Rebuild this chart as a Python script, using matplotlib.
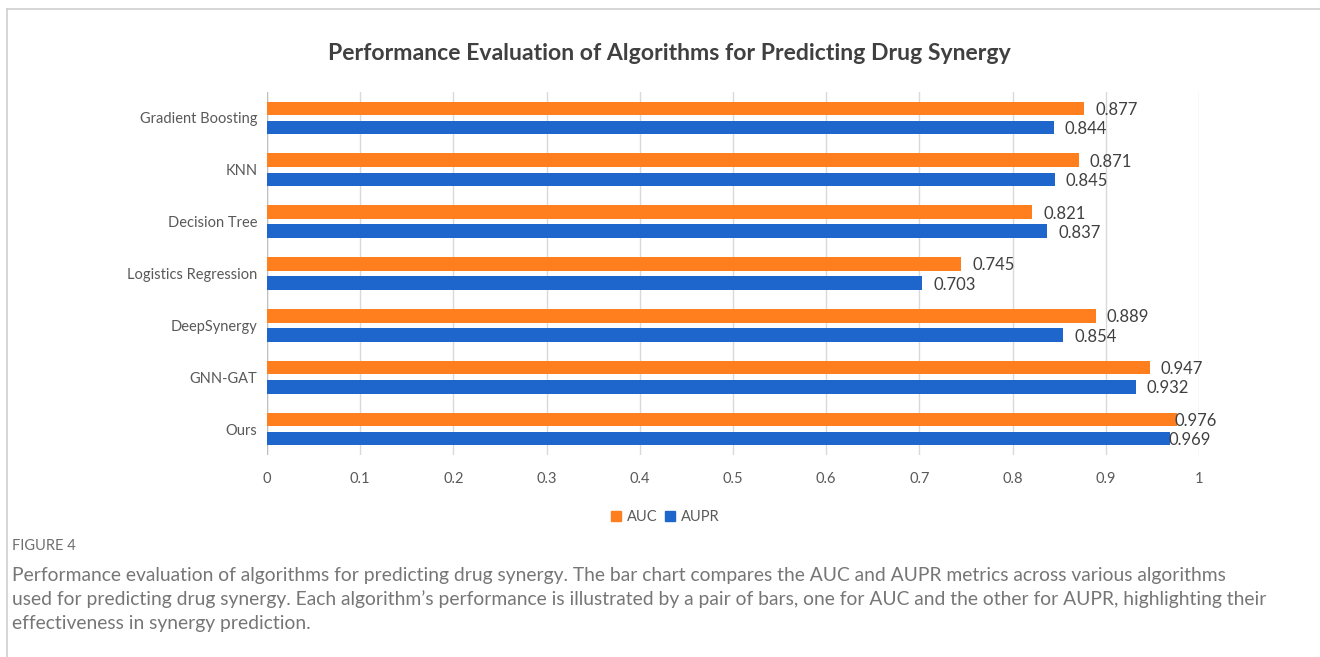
import matplotlib
matplotlib.use("Agg")
import matplotlib.pyplot as plt
from matplotlib.patches import Patch
from matplotlib.lines import Line2D

# Algorithms listed top to bottom
algorithms = ["Gradient Boosting", "KNN", "Decision Tree", "Logistics Regression",
              "DeepSynergy", "GNN-GAT", "Ours"]
auc = [0.877, 0.871, 0.821, 0.745, 0.889, 0.947, 0.976]
aupr = [0.844, 0.845, 0.837, 0.703, 0.854, 0.932, 0.969]
x_ticks = [0, 0.1, 0.2, 0.3, 0.4, 0.5, 0.6, 0.7, 0.8, 0.9, 1]
x_tick_labels = ["0", "0.1", "0.2", "0.3", "0.4", "0.5", "0.6", "0.7", "0.8", "0.9", "1"]

title = "Performance Evaluation of Algorithms for Predicting Drug Synergy"
fig_label = "FIGURE 4"
caption_lines = [
    "Performance evaluation of algorithms for predicting drug synergy. The bar chart compares the AUC and AUPR metrics across various algorithms",
    "used for predicting drug synergy. Each algorithm\u2019s performance is illustrated by a pair of bars, one for AUC and the other for AUPR, highlighting their",
    "effectiveness in synergy prediction.",
]

ORANGE = "#FF7F1F"
BLUE = "#1F66CC"
TEXT = "#404040"
TICK = "#595959"
GRID = "#D9D9D9"

W, H = 1320, 657
fig = plt.figure(figsize=(W / 100, H / 100), dpi=100)
fig.patch.set_facecolor("white")

# Frame around the figure panel (top and left edges)
fig.add_artist(Line2D([7 / W, 7 / W], [0, 1 - 9 / H], transform=fig.transFigure,
                      color="#CFCFCF", lw=1.2))
fig.add_artist(Line2D([7 / W, 1], [1 - 9 / H, 1 - 9 / H], transform=fig.transFigure,
                      color="#CFCFCF", lw=1.2))

left, right, top, bottom = 267, 1199, 92, 455
ax = fig.add_axes([left / W, 1 - bottom / H, (right - left) / W, (bottom - top) / H])

pos = list(range(len(algorithms)))
h = 0.26
off = 0.185
ax.barh([p - off for p in pos], auc, height=h, color=ORANGE, label="AUC", zorder=3)
ax.barh([p + off for p in pos], aupr, height=h, color=BLUE, label="AUPR", zorder=3)

# Value labels beside each bar
pads = [0.012] * (len(algorithms) - 1) + [-0.002]
for p, a, b, pad in zip(pos, auc, aupr, pads):
    ax.text(a + pad, p - off + 0.03, f"{a:.3f}", va="center", ha="left",
            fontsize=12, color=TEXT, family="Lato", zorder=4)
    ax.text(b + pad, p + off + 0.03, f"{b:.3f}", va="center", ha="left",
            fontsize=12, color=TEXT, family="Lato", zorder=4)

ax.set_xlim(0, 1)
ax.set_ylim(len(algorithms) - 0.5, -0.5)
ax.set_xticks(x_ticks)
ax.set_xticklabels(x_tick_labels, fontsize=10.5, color=TICK, family="Lato")
ax.set_yticks(pos)
ax.set_yticklabels(algorithms, fontsize=10.5, color=TICK, family="Lato")
ax.tick_params(axis="both", length=0)
ax.tick_params(axis="x", pad=12)
ax.tick_params(axis="y", pad=7)
ax.grid(axis="x", color=GRID, lw=1, zorder=0)
for s in ax.spines.values():
    s.set_visible(False)
ax.axvline(0, color="#BFBFBF", lw=1, zorder=2)

fig.text(669 / W, 1 - 54 / H, title, ha="center", va="center", fontsize=16.6,
         fontweight="bold", color=TEXT, family="Lato")

handles = [Patch(color=ORANGE, label="AUC"), Patch(color=BLUE, label="AUPR")]
fig.legend(handles=handles, loc="center", bbox_to_anchor=(665 / W, 1 - 517 / H),
           ncol=2, frameon=False, handlelength=0.7, handleheight=0.7,
           handletextpad=0.4, columnspacing=0.5, labelcolor=TICK,
           prop={"family": "Lato", "size": 10.5})

fig.text(12 / W, 1 - 546 / H, fig_label, ha="left", va="center", fontsize=10.5,
         color="#6E6E6E", family="Lato")
# Caption, one line at a time
for i, line in enumerate(caption_lines):
    fig.text(12 / W, 1 - (576 + 23.5 * i) / H, line, ha="left", va="center",
             fontsize=13.85, color="#767676", family="Lato")

fig.savefig("out.png", dpi=100)
